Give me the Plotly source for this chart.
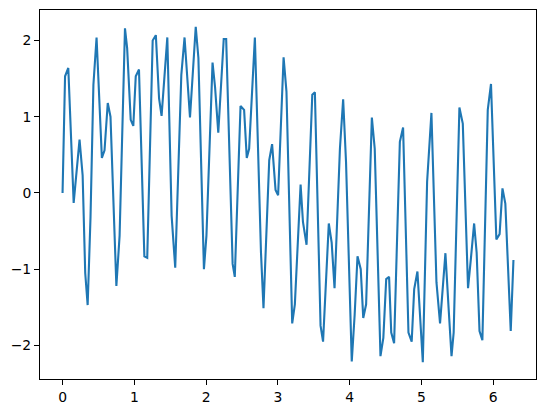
import plotly.graph_objects as go

# vertices of the signal (x in radians, y value)
x_vals = [
    0.000, 0.035, 0.080, 0.155, 0.237, 0.280, 0.316, 0.350, 0.390, 0.430,
    0.474, 0.548, 0.585, 0.630, 0.668, 0.750, 0.795, 0.870, 0.900, 0.950,
    0.986, 1.020, 1.065, 1.140, 1.180, 1.256, 1.300, 1.345, 1.380, 1.460,
    1.520, 1.570, 1.655, 1.700, 1.776, 1.856, 1.893, 1.970, 2.005, 2.090,
    2.125, 2.170, 2.246, 2.280, 2.370, 2.400, 2.480, 2.530, 2.567, 2.600,
    2.680, 2.765, 2.800, 2.880, 2.920, 2.968, 3.004, 3.080, 3.120, 3.200,
    3.237, 3.317, 3.350, 3.400, 3.480, 3.516, 3.595, 3.630, 3.710, 3.750,
    3.790, 3.865, 3.910, 3.950, 4.030, 4.070, 4.110, 4.155, 4.190, 4.230,
    4.310, 4.350, 4.430, 4.470, 4.510, 4.550, 4.580, 4.620, 4.700, 4.745,
    4.820, 4.865, 4.900, 4.945, 5.020, 5.080, 5.140, 5.210, 5.260, 5.335,
    5.380, 5.420, 5.450, 5.530, 5.577, 5.650, 5.690, 5.735, 5.770, 5.810,
    5.850, 5.925, 5.970, 6.045, 6.090, 6.130, 6.170, 6.245, 6.283,
]
y_vals = [
    0.00, 1.53, 1.64, -0.13, 0.70, 0.23, -1.05, -1.47, -0.31, 1.42,
    2.04, 0.46, 0.56, 1.18, 1.00, -1.22, -0.56, 2.16, 1.90, 0.96,
    0.88, 1.53, 1.62, -0.83, -0.85, 2.00, 2.07, 1.24, 1.01, 2.04,
    -0.30, -0.98, 1.55, 2.04, 0.99, 2.18, 1.77, -1.00, -0.56, 1.71,
    1.39, 0.79, 2.02, 2.02, -0.93, -1.10, 1.14, 1.09, 0.46, 0.58,
    2.04, -0.78, -1.51, 0.43, 0.64, 0.04, -0.03, 1.78, 1.33, -1.71,
    -1.46, 0.11, -0.38, -0.68, 1.29, 1.32, -1.74, -1.95, -0.40, -0.65,
    -1.25, 0.58, 1.23, 0.41, -2.21, -1.60, -0.83, -1.00, -1.64, -1.46,
    0.99, 0.58, -2.14, -1.90, -1.13, -1.10, -1.83, -1.97, 0.67, 0.86,
    -1.83, -1.95, -1.26, -1.03, -2.22, 0.15, 1.05, -1.17, -1.71, -0.79,
    -1.52, -2.14, -1.83, 1.12, 0.91, -1.25, -0.86, -0.40, -0.78, -1.81,
    -1.93, 1.09, 1.43, -0.61, -0.54, 0.06, -0.14, -1.81, -0.88,
]

x_ticks = [0, 1, 2, 3, 4, 5, 6]
y_ticks = [-2, -1, 0, 1, 2]


def _pad_range(vals, frac=0.05):
    lo, hi = min(vals), max(vals)
    span = hi - lo
    return [lo - frac * span, hi + frac * span]


fig = go.Figure(go.Scatter(
    x=x_vals,
    y=y_vals,
    mode="lines",
    line=dict(color="#1f77b4", width=2.1),
    showlegend=False,
))

axis_style = dict(
    showline=True, mirror=True, linecolor="black", linewidth=1,
    ticks="outside", ticklen=5, tickwidth=1, tickcolor="black",
    showgrid=False, zeroline=False, automargin=False,
    tickfont=dict(family="DejaVu Sans", size=13.9, color="black"),
)

# page body adds an 8px offset, so margins are shifted to compensate
fig.update_layout(
    width=546, height=413,
    margin=dict(l=32, r=18, t=2, b=42),
    plot_bgcolor="white", paper_bgcolor="white",
    xaxis=dict(range=_pad_range(x_vals), tickvals=x_ticks, **axis_style),
    yaxis=dict(range=_pad_range(y_vals), tickvals=y_ticks, **axis_style),
)

fig.write_html("out.html")
